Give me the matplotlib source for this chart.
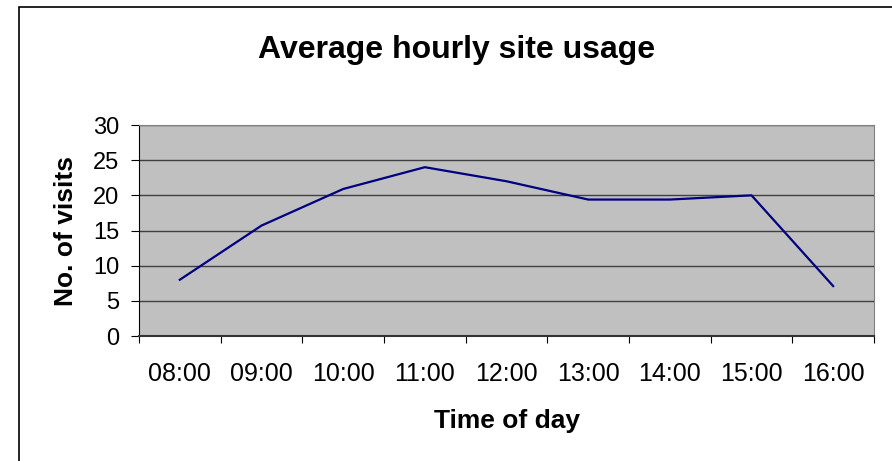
import matplotlib.pyplot as plt
import matplotlib.patches as patches
import numpy as np

plt.rcParams['font.family'] = ['Liberation Sans', 'DejaVu Sans']

# data
hours = ['08:00', '09:00', '10:00', '11:00', '12:00', '13:00', '14:00', '15:00', '16:00']
visits = [8, 15.7, 20.9, 24, 22, 19.4, 19.4, 20, 7.1]

fig = plt.figure(figsize=(8.92, 4.61), dpi=100)
# outer chart border (cut off at right/bottom like the screenshot)
fig.patches.append(patches.Rectangle((19 / 892, -0.1), 1.0, 1 - 7 / 461 + 0.1,
                                     transform=fig.transFigure, fill=False,
                                     edgecolor='black', linewidth=1.2))

ax = fig.add_axes([139 / 892, 1 - 336 / 461, 735 / 892, 211 / 461])
ax.set_facecolor('#c0c0c0')

x = np.arange(len(hours)) + 0.5
ax.plot(x, visits, color='#000080', linewidth=1.6)

ax.set_xlim(0, len(hours))
ax.set_ylim(0, 30)
ax.set_yticks(range(0, 31, 5))
ax.yaxis.grid(True, color='#404040', linewidth=1)
ax.set_axisbelow(True)

# category labels between tick marks
ax.set_xticks(range(len(hours) + 1))
ax.set_xticklabels([])
ax.set_xticks(x, minor=True)
ax.set_xticklabels(hours, minor=True)
ax.tick_params(axis='x', which='minor', length=0, pad=19, labelsize=18)
ax.tick_params(axis='x', which='major', length=5, direction='out')
ax.tick_params(axis='y', length=6, direction='out', labelsize=17, pad=8)

for s in ['top', 'right']:
    ax.spines[s].set_color('#808080')
ax.spines['left'].set_color('black')
ax.spines['bottom'].set_color('#333333')
ax.spines['bottom'].set_linewidth(1.5)

ax.set_ylabel('No. of visits', fontsize=19, fontweight='bold', labelpad=11)
ax.set_xlabel('Time of day', fontsize=19, fontweight='bold', labelpad=16)
fig.text(457 / 892, 1 - 58 / 461, 'Average hourly site usage', fontsize=23,
         fontweight='bold', ha='center', va='baseline')

fig.savefig('out.png', dpi=100)
